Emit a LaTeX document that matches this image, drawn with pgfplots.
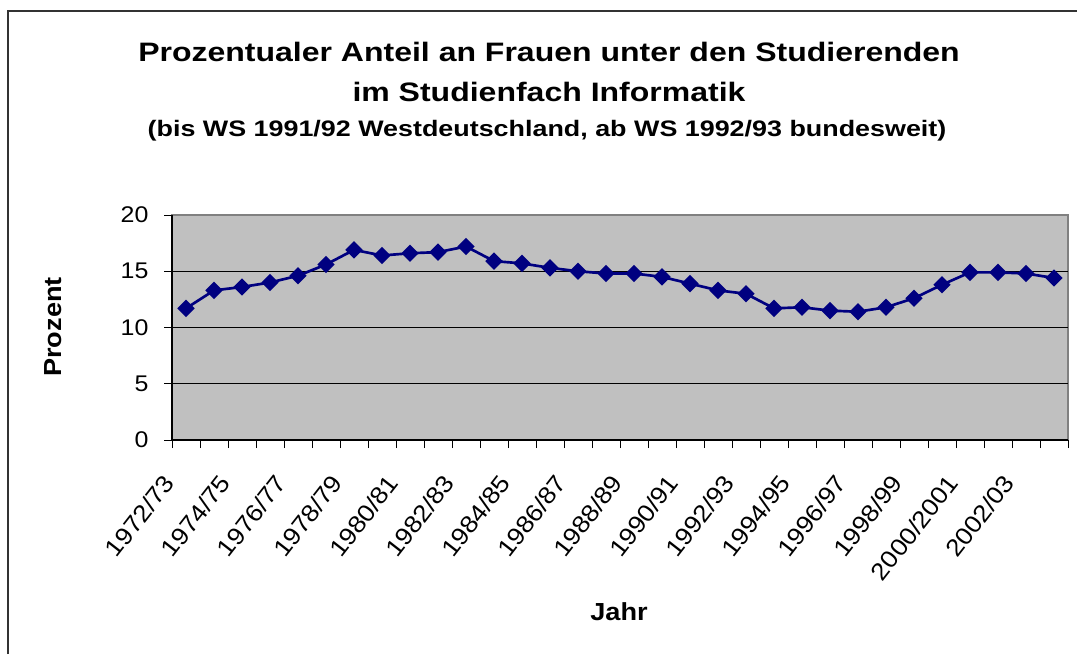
\documentclass[border=0pt]{standalone}
\usepackage{pgfplots}
\pgfplotsset{compat=1.18}
\usepackage{fontspec}
\setmainfont{Liberation Sans}[FakeStretch=1.1]
\newfontfamily\titlefont{Liberation Sans}[FakeStretch=1.2]
\definecolor{plotgray}{HTML}{C0C0C0}
\definecolor{bordergray}{HTML}{808080}
\definecolor{navyblue}{HTML}{000080}
\begin{document}
\begin{tikzpicture}
\path[use as bounding box] (0,0) rectangle (807.75pt,490.5pt);
\draw[line width=1.1pt, black!80] (6pt,0pt) -- (6pt,482.25pt) -- (807.75pt,482.25pt);
\begin{axis}[
  at={(129pt,160.5pt)}, anchor=south west,
  scale only axis, width=672pt, height=168.75pt,
  xmin=-0.5, xmax=31.5, ymin=0, ymax=20,
  axis x line*=bottom, axis y line*=left,
  axis line style={black, line width=0.9pt},
  axis background/.style={fill=plotgray, draw=bordergray, line width=1.2pt},
  ytick={0,5,...,20},
  extra y ticks={5,10,15}, extra y tick labels={},
  extra y tick style={grid=major},
  major grid style={black, line width=0.6pt},
  tick align=outside, major tick length=6pt, minor tick length=6pt,
  xtick={0,2,...,30},
  xticklabels={1972/73,1974/75,1976/77,1978/79,1980/81,1982/83,1984/85,1986/87,1988/89,1990/91,1992/93,1994/95,1996/97,1998/99,2000/2001,2002/03},
  minor xtick={-0.5,0.5,...,31.5},
  major x tick style={draw=none},
  tick style={black, line width=0.75pt},
  tick label style={font=\fontsize{17}{20}\selectfont},
  /pgf/number format/assume math mode=true,
  xticklabel style={font=\fontsize{18}{20}\selectfont, xshift=-18pt, yshift=-18.5pt, rotate=52, anchor=north east, inner sep=0pt},
  yticklabel style={inner sep=0pt, xshift=-11.5pt},
  clip=false,
]
\addplot[navyblue, line width=2pt, mark=square*, mark size=3.6pt, mark options={rotate=45, solid}] coordinates {
(0,11.7) (1,13.3) (2,13.6) (3,14.0) (4,14.6) (5,15.6) (6,16.9) (7,16.4)
(8,16.6) (9,16.7) (10,17.2) (11,15.9) (12,15.7) (13,15.3) (14,15.0) (15,14.8)
(16,14.8) (17,14.5) (18,13.9) (19,13.3) (20,13.0) (21,11.7) (22,11.8) (23,11.5)
(24,11.4) (25,11.8) (26,12.6) (27,13.8) (28,14.9) (29,14.9) (30,14.8) (31,14.4)
};
\end{axis}
\node[anchor=base, font=\titlefont\bfseries\fontsize{20}{24}\selectfont] at (411.75pt,444pt) {Prozentualer Anteil an Frauen unter den Studierenden};
\node[anchor=base, font=\titlefont\bfseries\fontsize{20}{24}\selectfont] at (411.75pt,414pt) {im Studienfach Informatik};
\node[anchor=base, font=\titlefont\bfseries\fontsize{16.8}{20}\selectfont] at (410.25pt,387.75pt) {(bis WS 1991/92 Westdeutschland, ab WS 1992/93 bundesweit)};
\node[rotate=90, font=\bfseries\fontsize{18.5}{22}\selectfont] at (39.5pt,245.25pt) {Prozent};
\node[font=\bfseries\fontsize{18.5}{22}\selectfont] at (464.25pt,31.5pt) {Jahr};
\end{tikzpicture}
\end{document}
